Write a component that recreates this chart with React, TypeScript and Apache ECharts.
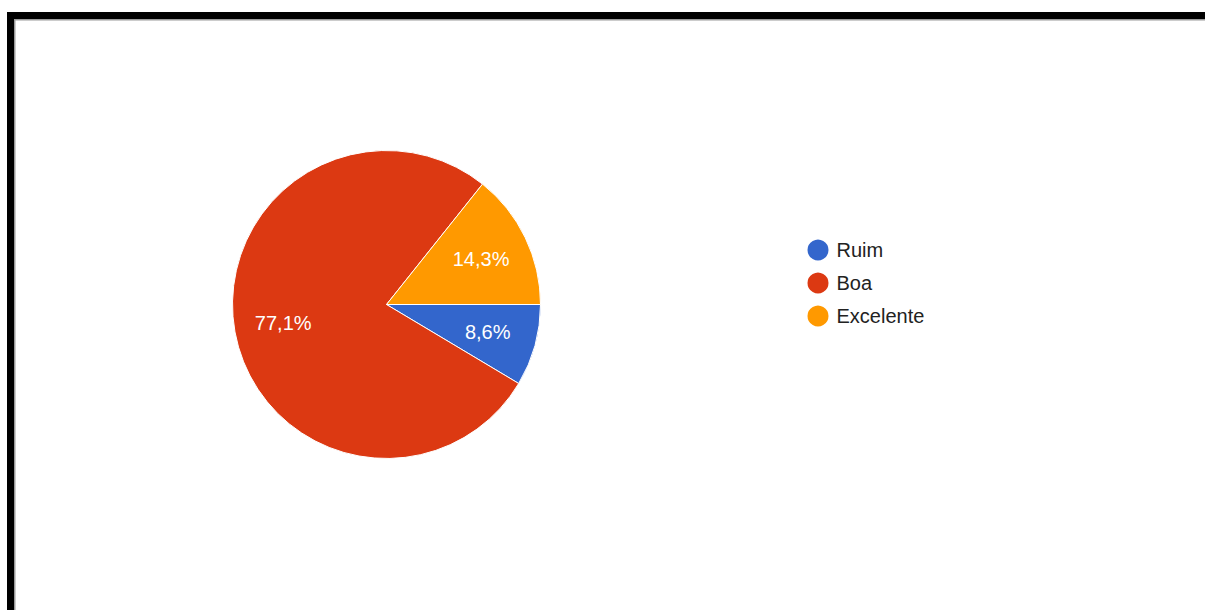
import React, { useEffect, useRef } from "react";
import * as echarts from "echarts";

const categories = ["Ruim", "Boa", "Excelente"];
const values = [3, 27, 5];
const colors = ["#3366cc", "#dc3912", "#ff9900"];

export default function App() {
  const ref = useRef<HTMLDivElement>(null);
  useEffect(() => {
    if (!ref.current) return;
    const chart = echarts.init(ref.current, null, { renderer: "svg" });
    const data = categories.map((name, i) => ({ name, value: values[i], itemStyle: { color: colors[i] } }));
    const fmt = (p: any) => p.percent.toFixed(1).replace(".", ",") + "%";
    chart.setOption({
      animation: false,
      backgroundColor: "#ffffff",
      legend: {
        orient: "vertical",
        left: 805.5,
        top: 237.5,
        padding: 0,
        icon: "circle",
        itemWidth: 23,
        itemHeight: 23,
        itemGap: 8,
        data: categories,
        textStyle: { fontFamily: "Arial, 'Liberation Sans'", fontSize: 20, color: "#222222", padding: [0, 0, 0, 2] },
      },
      graphic: [
        { type: "rect", shape: { x: 7, y: 12, width: 1210, height: 7 }, style: { fill: "#000" } },
        { type: "rect", shape: { x: 7, y: 12, width: 7, height: 610 }, style: { fill: "#000" } },
        { type: "rect", shape: { x: 14, y: 19, width: 1200, height: 1.5 }, style: { fill: "#9a9a9a" } },
        { type: "rect", shape: { x: 14, y: 19, width: 1.5, height: 600 }, style: { fill: "#9a9a9a" } },
      ],
      series: [
        {
          type: "pie",
          center: [386.5, 304.5],
          radius: 154,
          startAngle: 0,
          clockwise: true,
          percentPrecision: 1,
          data,
          label: { show: false },
          labelLine: { show: false },
          itemStyle: { borderColor: "#ffffff", borderWidth: 1 },
          emphasis: { disabled: true },
        },
        {
          type: "pie",
          center: [386.5, 304.5],
          radius: [50, 154],
          startAngle: 0,
          clockwise: true,
          percentPrecision: 1,
          silent: true,
          data: categories.map((name, i) => ({ name, value: values[i], itemStyle: { color: "rgba(0,0,0,0)" } })),
          label: {
            show: true,
            position: "inside",
            formatter: fmt,
            color: "#ffffff",
            fontSize: 20,
            fontFamily: "Arial, 'Liberation Sans'",
          },
          labelLine: { show: false },
          emphasis: { disabled: true },
          z: 3,
        },
      ],
    });
    return () => chart.dispose();
  }, []);
  return <div ref={ref} style={{ position: "absolute", left: 0, top: 0, width: 1205, height: 610 }} />;
}
